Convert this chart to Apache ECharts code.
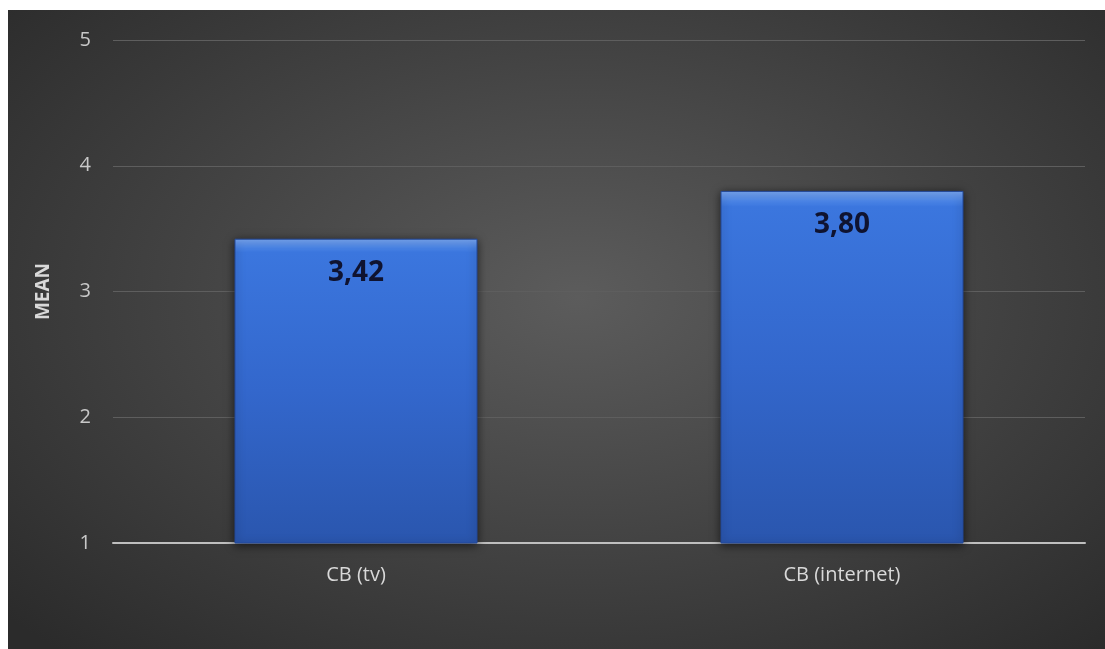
<!DOCTYPE html>
<html>
<head>
<meta charset="utf-8">
<script src="https://cdn.jsdelivr.net/npm/echarts@6/dist/echarts.min.js"></script>
<style>
  html, body { margin: 0; padding: 0; background: #ffffff; width: 1105px; height: 649px; overflow: hidden; }
  #chart {
    position: absolute; left: 8px; top: 10px; width: 1097px; height: 639px;
    background: radial-gradient(ellipse 70% 75% at 52% 45%, #5c5c5c 0%, #464646 45%, #2b2b2b 100%);
  }
</style>
</head>
<body>
<div id="chart"></div>
<script>
// Categories and mean scores
const categories = ['CB (tv)', 'CB (internet)'];
const meanValues = [3.42, 3.80];
const yTicks = [1, 2, 3, 4, 5];

const chart = echarts.init(document.getElementById('chart'), null, { renderer: 'canvas' });

const font = '"Open Sans", "Noto Sans", sans-serif';

chart.setOption({
  animation: false,
  backgroundColor: 'transparent',
  grid: { left: 105, right: 20, top: 30, bottom: 106, containLabel: false },
  xAxis: {
    type: 'category',
    data: categories,
    axisLine: { show: true, lineStyle: { color: '#bfbfbf', width: 2 } },
    axisTick: { show: false },
    axisLabel: { color: '#d9d9d9', fontSize: 20, fontFamily: font, margin: 22 },
    splitLine: { show: false }
  },
  yAxis: {
    type: 'value',
    min: yTicks[0],
    max: yTicks[yTicks.length - 1],
    interval: 1,
    name: 'MEAN',
    nameLocation: 'middle',
    nameGap: 60,
    nameRotate: 90,
    nameTextStyle: { color: '#d9d9d9', fontSize: 19, fontWeight: 'bold', fontFamily: font },
    axisLine: { show: false },
    axisTick: { show: false },
    axisLabel: { color: '#c8c8c8', fontSize: 20, fontFamily: font, margin: 22 },
    splitLine: { lineStyle: { color: '#5e5e5e', width: 1 } }
  },
  series: [{
    type: 'bar',
    data: meanValues,
    barWidth: '50%',
    itemStyle: {
      color: {
        type: 'linear', x: 0, y: 0, x2: 0, y2: 1,
        colorStops: [
          { offset: 0, color: '#7aa8f4' },
          { offset: 0.03, color: '#4a84e6' },
          { offset: 0.045, color: '#3b76de' },
          { offset: 0.5, color: '#3367cc' },
          { offset: 1, color: '#2a56ae' }
        ]
      },
      borderColor: '#22489a',
      borderWidth: 1,
      shadowColor: 'rgba(0,0,0,0.6)',
      shadowBlur: 9,
      shadowOffsetY: 2
    },
    label: {
      show: true,
      position: 'insideTop',
      distance: 20,
      formatter: p => p.value.toFixed(2).replace('.', ','),
      color: '#0f1330',
      fontSize: 28,
      fontWeight: 'bold',
      fontFamily: font
    }
  }]
});
</script>
</body>
</html>
